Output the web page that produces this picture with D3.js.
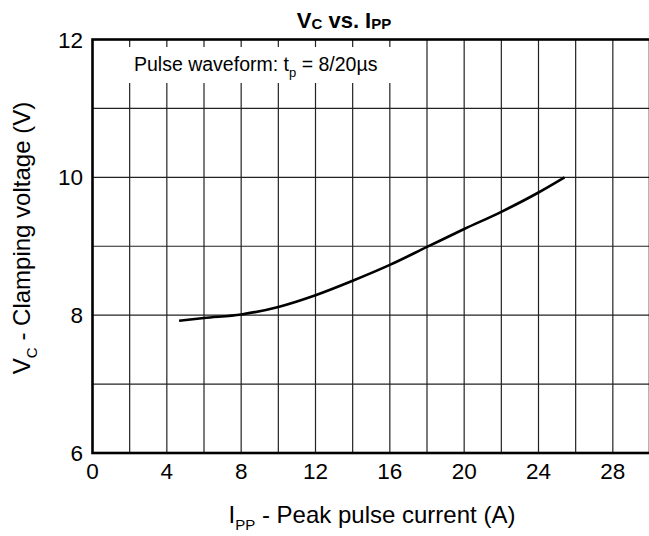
<!DOCTYPE html>
<html>
<head>
<meta charset="utf-8">
<script src="https://cdn.jsdelivr.net/npm/d3@7"></script>
<style>
  body { margin: 0; background: #fff; }
  svg { font-family: Arial, "Liberation Sans", sans-serif; }
</style>
</head>
<body>
<div class="container"></div>
<script>
  // curve
  var ippValues = [4.66, 6, 8, 10, 12, 14, 16, 18, 20, 22, 24, 25.4];
  var vcValues = [7.92, 7.96, 8.01, 8.12, 8.29, 8.50, 8.73, 8.99, 9.25, 9.50, 9.78, 10.0];

  var xTicks = [0, 4, 8, 12, 16, 20, 24, 28];
  var yTicks = [6, 8, 10, 12];
  var xGrid = d3.range(2, 30, 2);
  var yGrid = [7, 8, 9, 10, 11];

  // Frame attributes
  var w = 649;
  var h = 536;
  var margin = {left: 92.5, top: 39.5, right: -1, bottom: 83};

  var svg = d3.select(".container").append("svg").attr("width", w).attr("height", h);

  var x = d3.scaleLinear().domain([0, 30]).range([margin.left, w - margin.right]);
  var y = d3.scaleLinear().domain([6, 12]).range([h - margin.bottom, margin.top]);

  //grid
  svg.append("g").selectAll("line").data(xGrid).enter().append("line")
    .attr("x1", function(d){ return x(d); }).attr("x2", function(d){ return x(d); })
    .attr("y1", y(6)).attr("y2", y(12))
    .attr("stroke", "#222").attr("stroke-width", 1.2);

  svg.append("g").selectAll("line").data(yGrid).enter().append("line")
    .attr("x1", x(0)).attr("x2", x(30))
    .attr("y1", function(d){ return y(d); }).attr("y2", function(d){ return y(d); })
    .attr("stroke", "#222").attr("stroke-width", 1.2);

  // white box behind the note
  svg.append("rect")
    .attr("x", x(0) + 1).attr("y", 47)
    .attr("width", 312).attr("height", 36)
    .attr("fill", "#fff");

  var note = svg.append("text").attr("x", 134).attr("y", 71)
    .attr("font-size", 19.5).attr("fill", "#000");
  note.append("tspan").text("Pulse waveform: t");
  note.append("tspan").attr("font-size", 13).attr("dy", 6).text("p");
  note.append("tspan").attr("dy", -6).text(" = 8/20µs");

  //curve
  var line = d3.line()
    .x(function(d, i){ return x(ippValues[i]); })
    .y(function(d){ return y(d); })
    .curve(d3.curveMonotoneX);

  svg.append("path").datum(vcValues)
    .attr("d", line)
    .attr("fill", "none").attr("stroke", "#000").attr("stroke-width", 2.6);

  // frame
  svg.append("rect")
    .attr("x", x(0)).attr("y", y(12))
    .attr("width", x(30) - x(0)).attr("height", y(6) - y(12))
    .attr("fill", "none").attr("stroke", "#000").attr("stroke-width", 2.6);

  //tick labels
  svg.append("g").selectAll("text").data(xTicks).enter().append("text")
    .attr("x", function(d){ return x(d); }).attr("y", 479)
    .attr("text-anchor", "middle").attr("font-size", 22.5)
    .text(function(d){ return d; });

  svg.append("g").selectAll("text").data(yTicks).enter().append("text")
    .attr("x", 83).attr("y", function(d){ return y(d) + 8; })
    .attr("text-anchor", "end").attr("font-size", 22.5)
    .text(function(d){ return d; });

  //title
  var title = svg.append("text").attr("x", 344).attr("y", 28)
    .attr("text-anchor", "middle").attr("font-size", 22).attr("font-weight", "bold");
  title.append("tspan").text("V");
  title.append("tspan").attr("font-size", 15).attr("dy", 1).text("C");
  title.append("tspan").attr("dy", -1).text(" vs. I");
  title.append("tspan").attr("font-size", 15).attr("dy", 1).text("PP");

  // axis titles
  var xt = svg.append("text").attr("x", 372).attr("y", 523)
    .attr("text-anchor", "middle").attr("font-size", 24);
  xt.append("tspan").text("I");
  xt.append("tspan").attr("font-size", 15).attr("dy", 7).text("PP");
  xt.append("tspan").attr("dy", -7).text(" - Peak pulse current (A)");

  var yt = svg.append("text")
    .attr("transform", "translate(30,238) rotate(-90)")
    .attr("text-anchor", "middle").attr("font-size", 24);
  yt.append("tspan").text("V");
  yt.append("tspan").attr("font-size", 15).attr("dy", 7).text("C");
  yt.append("tspan").attr("dy", -7).text(" - Clamping voltage (V)");
</script>
</body>
</html>
